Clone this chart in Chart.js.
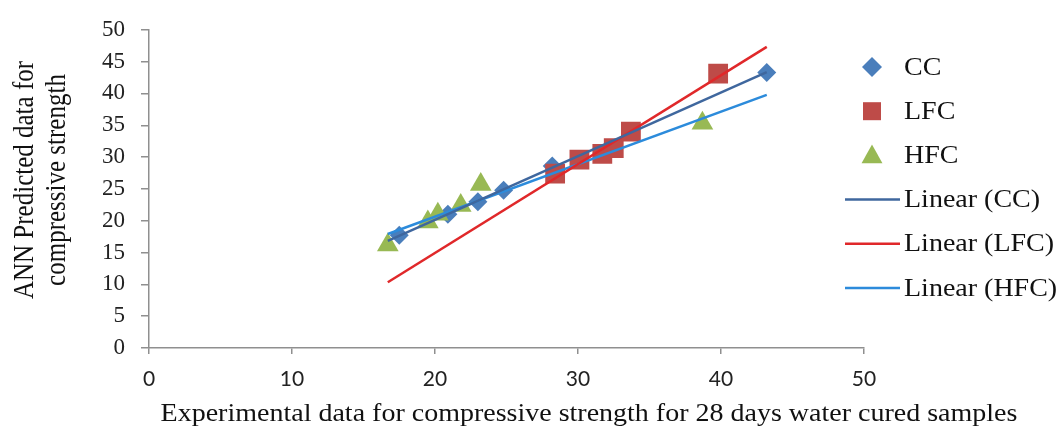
<!DOCTYPE html>
<html>
<head>
<meta charset="utf-8">
<script src="https://cdn.jsdelivr.net/npm/chart.js@4.4.1/dist/chart.umd.min.js"></script>
<style>
  html, body { margin: 0; padding: 0; background: #fff; }
  #wrap { width: 1063px; height: 430px; }
</style>
</head>
<body>
<div id="wrap"><canvas id="CHARTANN"></canvas></div>
<script>
// experimental (x) vs ANN predicted (y) compressive strength
const ccExp  = [17.5, 20.9, 23.0, 24.8, 28.2, 43.2];
const ccAnn  = [17.7, 21.0, 23.0, 24.8, 28.6, 43.3];
const lfcExp = [28.4, 30.1, 31.7, 32.5, 33.7, 39.8];
const lfcAnn = [27.4, 29.6, 30.5, 31.4, 34.0, 43.1];
const hfcExp = [16.7, 19.5, 20.2, 21.8, 23.2, 38.7];
const hfcAnn = [16.2, 19.8, 21.0, 22.4, 25.7, 35.3];

const xTicks = [0, 10, 20, 30, 40, 50];
const yTicks = [0, 5, 10, 15, 20, 25, 30, 35, 40, 45, 50];

const xTitle = 'Experimental data for compressive strength for 28 days water cured samples';
const yTitle = ['ANN Predicted data for', 'compressive strength'];

const SERIF = '"Liberation Serif", "Times New Roman", serif';

function toPoints(xs, ys) {
  return xs.map((x, i) => ({ x: x, y: ys[i] }));
}

// least squares line, drawn over the whole range of the data
const allX = ccExp.concat(lfcExp, hfcExp);
const xLo = Math.min(...allX);
const xHi = Math.max(...allX);

function trend(xs, ys) {
  const n = xs.length;
  const mx = xs.reduce((a, b) => a + b, 0) / n;
  const my = ys.reduce((a, b) => a + b, 0) / n;
  let sxy = 0, sxx = 0;
  for (let i = 0; i < n; i++) {
    sxy += (xs[i] - mx) * (ys[i] - my);
    sxx += (xs[i] - mx) * (xs[i] - mx);
  }
  const m = sxy / sxx;
  const b = my - m * mx;
  return [{ x: xLo, y: m * xLo + b }, { x: xHi, y: m * xHi + b }];
}

function marker(ctx, style, x, y, r) {
  ctx.beginPath();
  if (style === 'rectRot') {
    ctx.moveTo(x - r, y); ctx.lineTo(x, y - r); ctx.lineTo(x + r, y); ctx.lineTo(x, y + r);
  } else if (style === 'rect') {
    ctx.rect(x - r, y - r, 2 * r, 2 * r);
  } else {
    ctx.moveTo(x, y - r); ctx.lineTo(x + r * 0.95, y + r * 0.72); ctx.lineTo(x - r * 0.95, y + r * 0.72);
  }
  ctx.closePath();
  ctx.fill();
}

// wide serif text, like the rest of the figure
function wideText(ctx, text, x, y, sx, angle) {
  ctx.save();
  ctx.translate(x, y);
  if (angle) {
    ctx.rotate(angle);
    ctx.scale(1, sx);
  } else {
    ctx.scale(sx, 1);
  }
  ctx.fillText(text, 0, 0);
  ctx.restore();
}

// axis titles and the legend on the right
const figureText = {
  id: 'figureText',
  afterDraw(chart) {
    const ctx = chart.ctx;
    const sizes = { rectRot: 10, rect: 9, triangle: 11 };
    ctx.save();
    ctx.fillStyle = '#111';
    ctx.font = '25px ' + SERIF;

    ctx.textAlign = 'center';
    ctx.textBaseline = 'alphabetic';
    wideText(ctx, xTitle, 589, 421, 1.12, 0);
    wideText(ctx, yTitle[0], 33, 180, 1.2, -Math.PI / 2);
    wideText(ctx, yTitle[1], 65, 180, 1.2, -Math.PI / 2);

    ctx.textAlign = 'left';
    ctx.textBaseline = 'middle';
    chart.data.datasets.forEach((ds, i) => {
      const y = 67 + i * 44.2;
      if (ds.showLine) {
        ctx.strokeStyle = ds.borderColor;
        ctx.lineWidth = 2.5;
        ctx.beginPath();
        ctx.moveTo(845, y);
        ctx.lineTo(900, y);
        ctx.stroke();
      } else {
        ctx.fillStyle = ds.backgroundColor;
        marker(ctx, ds.pointStyle, 872, y, sizes[ds.pointStyle]);
      }
      ctx.fillStyle = '#111';
      wideText(ctx, ds.label, 904, y + 1, 1.12, 0);
    });
    ctx.restore();
  }
};

const ctx = document.getElementById('CHARTANN');

new Chart(ctx, {
  type: 'scatter',
  data: {
    datasets: [
      { label: 'CC', data: toPoints(ccExp, ccAnn), pointStyle: 'rectRot', pointRadius: 9.5,
        backgroundColor: '#4A7EBB', borderColor: '#4A7EBB', borderWidth: 0, order: 3 },
      { label: 'LFC', data: toPoints(lfcExp, lfcAnn), pointStyle: 'rect', pointRadius: 14,
        backgroundColor: '#BE4B48', borderColor: '#BE4B48', borderWidth: 0, order: 2 },
      { label: 'HFC', data: toPoints(hfcExp, hfcAnn), pointStyle: 'triangle', pointRadius: 12.5,
        backgroundColor: '#98B954', borderColor: '#98B954', borderWidth: 0, order: 1 },
      { label: 'Linear (CC)', data: trend(ccExp, ccAnn), showLine: true, pointRadius: 0,
        borderColor: '#3F679E', borderWidth: 2.5, order: 0 },
      { label: 'Linear (LFC)', data: trend(lfcExp, lfcAnn), showLine: true, pointRadius: 0,
        borderColor: '#E0282A', borderWidth: 2.5, order: 0 },
      { label: 'Linear (HFC)', data: trend(hfcExp, hfcAnn), showLine: true, pointRadius: 0,
        borderColor: '#2C8BDB', borderWidth: 2.5, order: 0 }
    ]
  },
  options: {
    responsive: true,
    maintainAspectRatio: false,
    animation: false,
    events: [],
    layout: { padding: { left: 0, right: 199, top: 20, bottom: 0 } },
    plugins: {
      legend: { display: false },
      tooltip: { enabled: false }
    },
    scales: {
      x: {
        type: 'linear',
        min: 0,
        max: 50,
        afterBuildTicks: (s) => { s.ticks = xTicks.map(v => ({ value: v })); },
        afterFit: (s) => { s.height = 82; },
        grid: { drawOnChartArea: false, tickLength: 6, color: '#8f8f8f', lineWidth: 1.5 },
        border: { color: '#8f8f8f', width: 1.5 },
        ticks: { font: { family: 'Lato', size: 21 }, color: '#222', padding: 13, maxRotation: 0 }
      },
      y: {
        type: 'linear',
        min: 0,
        max: 50,
        afterBuildTicks: (s) => { s.ticks = yTicks.map(v => ({ value: v })); },
        afterFit: (s) => { s.width = 149; },
        grid: { drawOnChartArea: false, tickLength: 8, color: '#8f8f8f', lineWidth: 1.5 },
        border: { color: '#8f8f8f', width: 1.5 },
        ticks: { font: { family: SERIF, size: 23 }, color: '#222', padding: 16 }
      }
    }
  },
  plugins: [figureText]
});
</script>
</body>
</html>
